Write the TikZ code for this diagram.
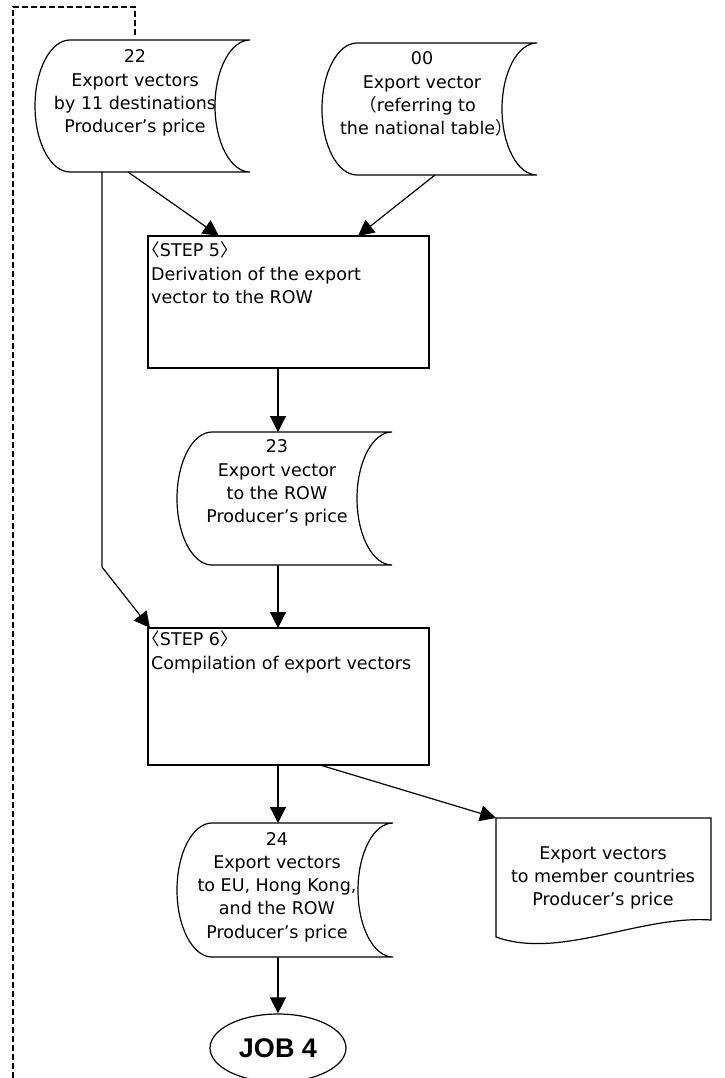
\documentclass[tikz,border=0pt]{standalone}
\usepackage{fontspec}
\setmainfont{DejaVu Sans}
\newfontfamily\halffont[RawFeature=+halt]{Noto Sans CJK JP}
\newfontfamily\jobfont{Liberation Sans}
\usetikzlibrary{arrows.meta,calc,shapes.geometric}
% stored-data outline: {L}{T}{R}{B}{d}
\newcommand{\storedpath}[5]{%
  \draw[shapeline] ({#1+#5},#2) -- (#3,#2)
    .. controls ({#3-0.5523*#5},#2) and ({#3-#5},{(#2+#4)/2-0.5523*(#4-#2)/2}) .. ({#3-#5},{(#2+#4)/2})
    .. controls ({#3-#5},{(#2+#4)/2+0.5523*(#4-#2)/2}) and ({#3-0.5523*#5},#4) .. (#3,#4)
    -- ({#1+#5},#4)
    .. controls ({#1+#5-0.5523*#5},#4) and (#1,{(#2+#4)/2+0.5523*(#4-#2)/2}) .. (#1,{(#2+#4)/2})
    .. controls (#1,{(#2+#4)/2-0.5523*(#4-#2)/2}) and ({#1+#5-0.5523*#5},#2) .. cycle;}
\begin{document}
\begin{tikzpicture}[x=1pt,y=-1pt,
  shapeline/.style={line width=1.2pt},
  bbox/.style={draw=none,inner sep=0pt,outer sep=0pt,rectangle},
  txt/.style={inner sep=0pt,align=center,font=\fontsize{17.5}{23.3}\selectfont},
  ltxt/.style={inner sep=0pt,align=left,font=\fontsize{17.5}{23.3}\selectfont},
  stepbox/.style={draw,line width=1.2pt,inner sep=0pt,outer sep=0pt,minimum width=281pt},
  arr/.style={line width=1.2pt,-{Triangle[length=16pt,width=16pt]}},
  feedback/.style={line width=1.2pt,dash pattern=on 6pt off 3pt}]
\useasboundingbox (0,0) rectangle (724,1078);
\clip (0,0) rectangle (724,1078);
\fill[white] (0,0) rectangle (724,1078);

% stored data 22
\node[bbox,minimum width=215pt,minimum height=132pt] (s22) at (142.5,106) {};
\storedpath{35}{40}{250}{172}{35}
\node[txt] (t22) at (135,93) {22\\Export vectors\\by 11 destinations\\Producer’s price};

% stored data 00
\node[bbox,minimum width=215pt,minimum height=132pt] (s00) at (429.5,109) {};
\storedpath{322}{43}{537}{175}{35}
\node[txt] (t00) at (422,94) {00\\Export vector\\{\halffont （}referring to\\the national table{\halffont ）}};

% STEP 5
\node[stepbox,minimum height=132pt] (step5) at (288.5,302) {};
\node[ltxt,anchor=west] (t5) at (151,273) {{\halffont 〈}STEP 5{\halffont 〉}\\Derivation of the export\\vector to the ROW};

% stored data 23
\node[bbox,minimum width=215pt,minimum height=133pt] (s23) at (284.5,498.5) {};
\storedpath{177}{432}{392}{565}{35}
\node[txt] (t23) at (277,483) {23\\Export vector\\to the ROW\\Producer’s price};

% STEP 6
\node[stepbox,minimum height=137pt] (step6) at (288.5,696.5) {};
\node[ltxt,anchor=west] (t6) at (151,652) {{\halffont 〈}STEP 6{\halffont 〉}\\Compilation of export vectors};

% stored data 24
\node[bbox,minimum width=216pt,minimum height=134pt] (s24) at (285,890) {};
\storedpath{177}{823}{393}{957}{35}
\node[txt] (t24) at (277,887) {24\\Export vectors\\to EU, Hong Kong,\\and the ROW\\Producer’s price};

% document
\node[bbox,minimum width=215pt,minimum height=119pt] (doc) at (603.5,877.5) {};
\draw[shapeline] (496,818) -- (711,818) -- (711,920)
  .. controls (640,915) and (560,960) .. (496,937) -- cycle;
\node[txt] (tdoc) at (603,878) {Export vectors\\to member countries\\Producer’s price};

% JOB 4
\node[ellipse,draw,line width=1.2pt,minimum width=136pt,minimum height=68pt,inner sep=0pt,
  font=\jobfont\bfseries\fontsize{27}{30}\selectfont] (job) at (278,1048) {JOB 4};

% connectors
\draw[arr] ([xshift=-14.5pt]s22.south) -- ([xshift=-69.5pt]step5.north);
\draw[arr] ([xshift=5.5pt]s00.south) -- ([xshift=69.5pt]step5.north);
\coordinate (bend) at (102,567);
\draw[arr] ([xshift=-40.5pt]s22.south) -- (bend) -- ([xshift=2pt]step6.north west);
\draw[arr] ([xshift=-10.5pt]step5.south) -- ([xshift=-6.5pt]s23.north);
\draw[arr] ([xshift=-6.5pt]s23.south) -- ([xshift=-10.5pt]step6.north);
\draw[arr] ([xshift=-10.5pt]step6.south) -- ([xshift=-7pt]s24.north);
\draw[arr] ([xshift=31.5pt]step6.south) -- (doc.north west);
\draw[arr] ([xshift=-7pt]s24.south) -- (job.north);

% feedback dashed line
\coordinate (dbot) at (13,1078);
\coordinate (dtop) at (135,35);
\draw[feedback] (dbot) -- (13,7) -- (135,7) -- (dtop);
\end{tikzpicture}
\end{document}
